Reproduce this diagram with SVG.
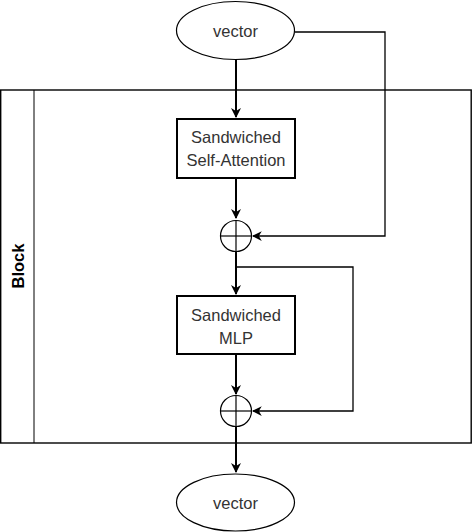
<svg xmlns="http://www.w3.org/2000/svg" width="472" height="532" viewBox="0 0 472 532">
<style>
.t{font-family:"Liberation Sans",Arial,sans-serif;font-size:16.5px;fill:#333;text-anchor:middle}
.node{fill:#fff;stroke:#000;stroke-width:2}
.thin{fill:none;stroke:#000;stroke-width:1.3}
.main{fill:none;stroke:#000;stroke-width:2}
</style>
<defs>
<marker id="ah" viewBox="0 0 10 10" refX="9" refY="5" markerWidth="5" markerHeight="5" markerUnits="strokeWidth" orient="auto">
<path d="M0,0 L10,5 L0,10 L3,5 Z" fill="#000"/>
</marker>
<marker id="ah2" viewBox="0 0 10 10" refX="9" refY="5" markerWidth="7.5" markerHeight="7.5" markerUnits="strokeWidth" orient="auto">
<path d="M0,0 L10,5 L0,10 L3,5 Z" fill="#000"/>
</marker>
</defs>
<g id="block">
<rect x="0.7" y="90" width="470.5" height="353" fill="none" stroke="#000" stroke-width="1.4"/>
<line x1="34" y1="90" x2="34" y2="443" stroke="#000" stroke-width="1"/>
<text transform="translate(23.5,266) rotate(-90)" x="0" y="0" style="font-family:'Liberation Sans',Arial,sans-serif;font-size:16.5px;font-weight:bold;text-anchor:middle" fill="#000">Block</text>
</g>
<g id="connectors">
<path class="main" d="M236,60 V117" marker-end="url(#ah)"/>
<path class="main" d="M236,178 V218" marker-end="url(#ah)"/>
<path class="thin" d="M295,32 H385 V236 H253" marker-end="url(#ah2)"/>
<path class="main" d="M236,252 V294" marker-end="url(#ah)"/>
<path class="thin" d="M236,267 H353 V411 H253" marker-end="url(#ah2)"/>
<path class="main" d="M236,354 V394" marker-end="url(#ah)"/>
<path class="main" d="M236,427 V472" marker-end="url(#ah)"/>
</g>
<g id="vector-in">
<ellipse cx="235.5" cy="30.5" rx="59" ry="29" fill="#fff" stroke="#000" stroke-width="1.2"/>
<text class="t" x="235.5" y="36.5">vector</text>
</g>
<g id="self-attention">
<rect class="node" x="177" y="119" width="118" height="59"/>
<text class="t" x="236" y="143">Sandwiched</text>
<text class="t" x="236" y="166">Self-Attention</text>
</g>
<g id="add1">
<circle cx="236" cy="236" r="15.5" fill="#fff" stroke="#000" stroke-width="1.2"/>
<line x1="220.5" y1="236" x2="251.5" y2="236" stroke="#000" stroke-width="1.2"/>
<line x1="236" y1="220.5" x2="236" y2="251.5" stroke="#000" stroke-width="1.2"/>
</g>
<g id="mlp">
<rect class="node" x="177" y="296" width="118" height="58"/>
<text class="t" x="236" y="321">Sandwiched</text>
<text class="t" x="236" y="344">MLP</text>
</g>
<g id="add2">
<circle cx="236" cy="411" r="15.5" fill="#fff" stroke="#000" stroke-width="1.2"/>
<line x1="220.5" y1="411" x2="251.5" y2="411" stroke="#000" stroke-width="1.2"/>
<line x1="236" y1="395.5" x2="236" y2="426.5" stroke="#000" stroke-width="1.2"/>
</g>
<g id="vector-out">
<ellipse cx="235.5" cy="502.5" rx="59" ry="28.5" fill="#fff" stroke="#000" stroke-width="1.2"/>
<text class="t" x="235.5" y="508.5">vector</text>
</g>
</svg>
